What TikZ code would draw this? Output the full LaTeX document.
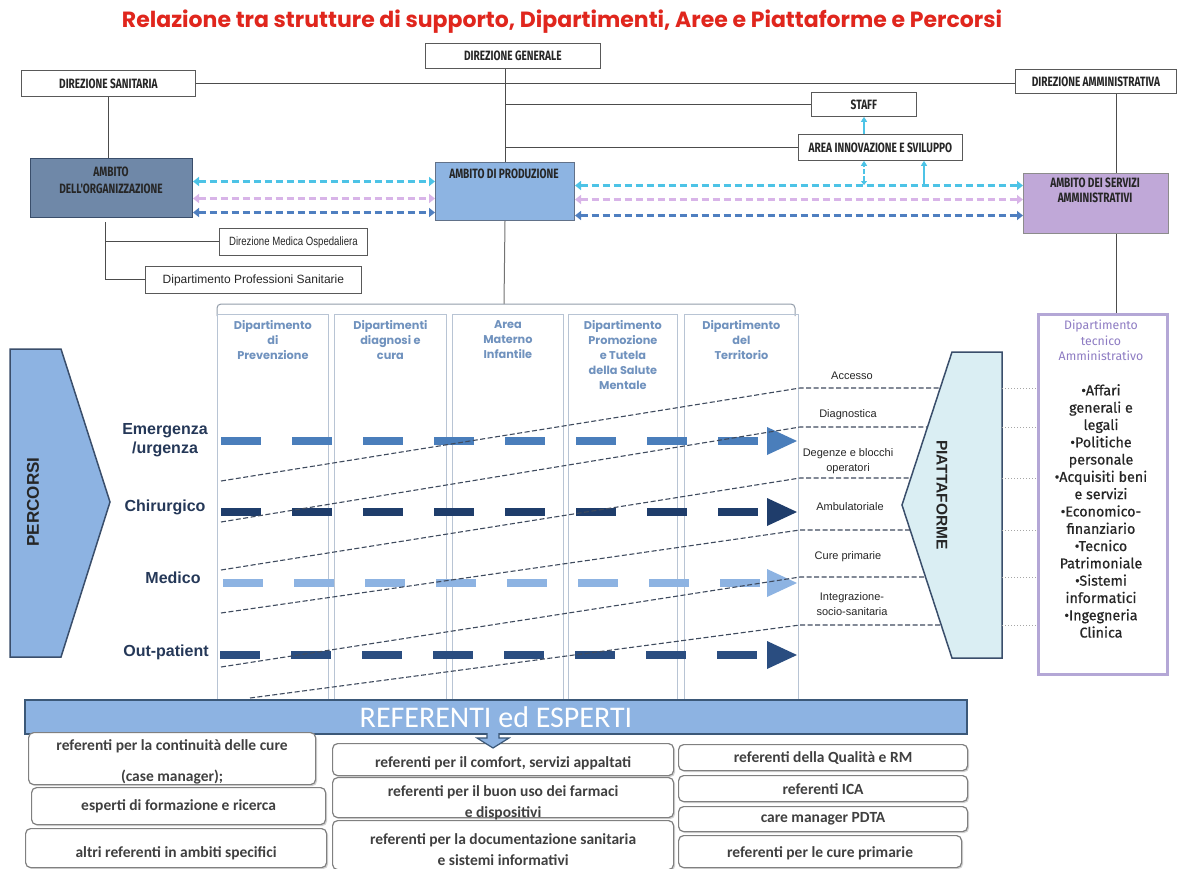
\documentclass[tikz,border=0pt]{standalone}
\usepackage{fontspec}
\setmainfont{Liberation Sans}
\newfontfamily\gothic{Poppins}
\newfontfamily\cond[FakeStretch=0.75]{Fira Sans}
\newfontfamily\condr[FakeStretch=0.8]{Liberation Sans}
\newfontfamily\fira{Fira Sans}
\newfontfamily\firab[FakeBold=0.6]{Fira Sans}
\newfontfamily\calib{Carlito}
\usetikzlibrary{arrows.meta,shadows}
\definecolor{titleC}{HTML}{E0261D}
\definecolor{adoC}{HTML}{6F88A8}
\definecolor{adpC}{HTML}{8DB4E2}
\definecolor{asaC}{HTML}{C0A8D8}
\definecolor{percC}{HTML}{8DB3E2}
\definecolor{piatC}{HTML}{DAEEF3}
\definecolor{bordC}{HTML}{3A4E6B}
\definecolor{refB}{HTML}{3B5878}
\definecolor{hdrC}{HTML}{7092BE}
\definecolor{colC}{HTML}{B8C4D4}
\definecolor{emC}{HTML}{4A7EBB}
\definecolor{chC}{HTML}{1F3D6B}
\definecolor{meC}{HTML}{8DB3E2}
\definecolor{opC}{HTML}{2A4D80}
\definecolor{cyA}{HTML}{4DC3E6}
\definecolor{piA}{HTML}{D8B4E8}
\definecolor{blA}{HTML}{4F7FC0}
\definecolor{lavC}{HTML}{B4A7D6}
\definecolor{purpC}{HTML}{8E7CC3}
\definecolor{rowC}{HTML}{253858}
\definecolor{slC}{HTML}{3F4B5E}
\definecolor{txC}{HTML}{404040}
\begin{document}
\begin{tikzpicture}[x=1pt,y=-1pt,
  tbox/.style={draw=black!65, line width=0.8pt, fill=white, inner sep=0, anchor=north west,
    font=\cond\bfseries\fontsize{13.5}{14}\selectfont, text=black!85},
  ambox/.style={line width=1pt, inner sep=0, anchor=north west},
  lbl/.style={font=\cond\bfseries\fontsize{13.5}{17}\selectfont, text=black!85, align=center},
  conn/.style={draw=black!70, line width=1pt},
  colbox/.style={draw=colC, line width=0.8pt, inner sep=0, anchor=north west},
  hdr/.style={anchor=north, align=center, inner sep=0, font=\gothic\bfseries\fontsize{11.3}{15}\selectfont, text=hdrC},
  rowlbl/.style={align=center, font=\bfseries\fontsize{16}{19}\selectfont, text=rowC},
  slant/.style={draw=slC, line width=1.1pt, dash pattern=on 5pt off 2.5pt},
  plbl/.style={align=center, font=\fontsize{11}{15}\selectfont, text=black!85},
  amb/.style={line width=2.8pt, dash pattern=on 7pt off 4pt, {Triangle[width=9pt,length=6pt]}-{Triangle[width=9pt,length=6pt]}},
  refbox/.style={draw=black!50, line width=1.2pt, rounded corners=5pt, fill=white, anchor=north west, inner sep=0,
    drop shadow={shadow xshift=1.5pt, shadow yshift=-1.5pt, fill=black!35}},
  reftxt/.style={font=\calib\bfseries\fontsize{15.5}{17}\selectfont, text=txC}
]
\useasboundingbox (0,0) rectangle (1184,868);
\fill[white] (0,0) rectangle (1184,868);

% title
\node[font=\gothic\bfseries\fontsize{22}{24}\selectfont, text=titleC] (title) at (562,22) {Relazione tra strutture di supporto, Dipartimenti, Aree e Piattaforme e Percorsi};

% top boxes
\node[tbox, minimum width=174pt, minimum height=26pt] (ds) at (21,70) {DIREZIONE SANITARIA};
\node[tbox, minimum width=175pt, minimum height=25pt] (dg) at (425,43) {DIREZIONE GENERALE};
\node[tbox, minimum width=161pt, minimum height=24pt] (da) at (1015,69) {DIREZIONE AMMINISTRATIVA};
\node[tbox, minimum width=105pt, minimum height=24pt] (staff) at (811,92) {STAFF};
\node[tbox, minimum width=164pt, minimum height=26pt] (ais) at (798,134) {AREA INNOVAZIONE E SVILUPPO};

% ambiti
\node[ambox, fill=adoC, draw=bordC, minimum width=162pt, minimum height=59pt] (ado) at (30,158) {};
\node[lbl] (adoT) at (111,180) {AMBITO\\DELL'ORGANIZZAZIONE};
\node[ambox, fill=adpC, draw=bordC!80, minimum width=139pt, minimum height=58pt] (adp) at (435,162) {};
\node[lbl] (adpT) at (504,174) {AMBITO DI PRODUZIONE};
\node[ambox, fill=asaC, draw=black!45, minimum width=145pt, minimum height=60pt] (asa) at (1023,173) {};
\node[lbl, font=\cond\bfseries\fontsize{13.5}{15}\selectfont] (asaT) at (1095,190) {AMBITO DEI SERVIZI\\AMMINISTRATIVI};

\node[tbox, font=\condr\fontsize{12}{13}\selectfont, minimum width=148pt, minimum height=27pt] (dmo) at (219,228) {Direzione Medica Ospedaliera};
\node[tbox, font=\fontsize{12}{13}\selectfont, minimum width=216pt, minimum height=27pt] (dps) at (145,266) {Dipartimento Professioni Sanitarie};

% connectors
\draw[conn] (ds.south) -- (ds.south |- ado.north);
\draw[conn] (ds.east) -- (ds.east -| da.west);
\draw[conn] (dg.south -| adp.north) -- (adp.north);
\draw[conn] (staff.west -| adp.north) -- (staff.west);
\draw[conn] (ais.west -| adp.north) -- (ais.west);
\coordinate (ob) at ([xshift=-6pt,yshift=-4pt]ado.south);
\draw[conn] (ob) |- (dps.west);
\draw[conn] (ob |- dmo.west) -- (dmo.west);
\coordinate (vx) at (1116,0);
\draw[conn] (da.south -| vx) -- (asa.north -| vx);
\draw[conn] (asa.south -| vx) -- (1116,313);

% dashed arrows between ambiti
\draw[amb, cyA] ([yshift=6.5pt]ado.east) -- ([yshift=6.5pt]ado.east -| adp.west);
\draw[amb, piA] ([yshift=-10.5pt]ado.east) -- ([yshift=-10.5pt]ado.east -| adp.west);
\draw[amb, blA] ([yshift=-24.5pt]ado.east) -- ([yshift=-24.5pt]ado.east -| adp.west);
\draw[amb, cyA] ([yshift=6pt]adp.east) -- ([yshift=6pt]adp.east -| asa.west);
\draw[amb, piA] ([yshift=-8pt]adp.east) -- ([yshift=-8pt]adp.east -| asa.west);
\draw[amb, blA] ([yshift=-24pt]adp.east) -- ([yshift=-24pt]adp.east -| asa.west);
\coordinate (c1) at (864,185);
\coordinate (c2) at (924,185);
\draw[cyA, line width=1.5pt, dash pattern=on 5pt off 2pt, {Triangle[width=6pt,length=4pt]}-{Triangle[width=6pt,length=5pt]}] (c1) -- (c1 |- ais.south);
\draw[cyA, line width=1.5pt, -{Triangle[width=6pt,length=5pt]}] (c2) -- (c2 |- ais.south);
\draw[cyA, line width=1.5pt, -{Triangle[width=6pt,length=5pt]}] (c1 |- ais.north) -- (c1 |- staff.south);

% brace and columns
\coordinate (brtop) at (504,304);
\draw[conn, draw=black!55] (adp.south) -- (brtop);
\draw[draw=colC!80!black, line width=1pt, rounded corners=4pt] (217,316) |- (795,304) -- (795,316);
\node[colbox, minimum width=111pt, minimum height=385pt] (col1) at (217,314) {};
\node[colbox, minimum width=112pt, minimum height=385pt] (col2) at (334,314) {};
\node[colbox, minimum width=111pt, minimum height=385pt] (col3) at (452,314) {};
\node[colbox, minimum width=109pt, minimum height=385pt] (col4) at (568,314) {};
\node[colbox, minimum width=114pt, minimum height=385pt] (col5) at (684,314) {};
\node[hdr] (h1) at (col1.north |- 0,320) {Dipartimento\\di\\Prevenzione};
\node[hdr] (h2) at (col2.north |- 0,320) {Dipartimenti\\diagnosi e\\cura};
\node[hdr] (h3) at (col3.north |- 0,320) {Area\\Materno\\Infantile};
\node[hdr] (h4) at (col4.north |- 0,320) {Dipartimento\\Promozione\\e Tutela\\della Salute\\Mentale};
\node[hdr] (h5) at (col5.north |- 0,320) {Dipartimento\\del\\Territorio};

% PERCORSI
\draw[fill=percC, draw=bordC, line width=1.5pt] (10,349) -- (61,349) -- (110,502) -- (61,657) -- (10,657) -- cycle;
\node[rotate=90, font=\bfseries\fontsize{17}{17}\selectfont, text=black!85] (perc) at (33,502) {PERCORSI};
\node[rowlbl] (r1) at (165,440) {Emergenza\\/urgenza};
\node[rowlbl] (r2) at (165,507) {Chirurgico};
\node[rowlbl] (r3) at (173,578) {Medico};
\node[rowlbl] (r4) at (166,652) {Out-patient};

\foreach \yy/\cc/\ss in {441/emC/221, 512/chC/221, 583/meC/223, 655/opC/220}{
  \draw[line width=8pt, dash pattern=on 40pt off 31pt, \cc] (\ss,\yy) -- (\ss+538,\yy);
  \fill[\cc] (767,\yy-14) -- (797,\yy) -- (767,\yy+14) -- cycle;
}

% PIATTAFORME
\draw[fill=piatC, draw=bordC, line width=1.5pt] (952,352) -- (1002,352) -- (1002,658) -- (952,658) -- (902,505) -- cycle;
\node[rotate=-90, font=\bfseries\fontsize{15.5}{16}\selectfont, text=black!85] (piat) at (942,495) {PIATTAFORME};

% slanted dashed lines
\draw[slant] (221,481) -- (800,388) -- (940,388);
\draw[slant] (221,522) -- (800,427) -- (927,427);
\draw[slant] (221,570) -- (800,478) -- (911,478);
\draw[slant] (221,613) -- (800,530) -- (910,530);
\draw[slant] (221,667) -- (800,577) -- (925,577);
\draw[slant] (250,698) -- (800,625) -- (941,625);

\node[plbl] (pl1) at (852,376) {Accesso};
\node[plbl] (pl2) at (848,415) {Diagnostica};
\node[plbl] (pl3) at (848,461) {Degenze e blocchi\\operatori};
\node[plbl] (pl4) at (850,507) {Ambulatoriale};
\node[plbl] (pl5) at (848,557) {Cure primarie};
\node[plbl] (pl6) at (852,604) {Integrazione-\\socio-sanitaria};

\foreach \yy in {388,427,478,530,577,625}{
  \draw[black!35, line width=1pt, dotted] (1002,\yy) -- (1037,\yy);
}

% Dipartimento tecnico amministrativo
\node[draw=lavC, line width=2.5pt, minimum width=129pt, minimum height=360pt, anchor=north west, inner sep=0] (dta) at (1037,313) {};
\node[anchor=north, align=center, inner sep=0, font=\fira\fontsize{12.3}{15.5}\selectfont, text=purpC] (dtaT) at (1101,320) {Dipartimento\\tecnico\\Amministrativo};
\node[anchor=north, align=center, inner sep=0, font=\firab\fontsize{14.3}{17.3}\selectfont, text=black!85] (dtaL) at (1101,384) {•Affari\\generali e\\legali\\•Politiche\\personale\\•Acquisiti beni\\e servizi\\•Economico-\\finanziario\\•Tecnico\\Patrimoniale\\•Sistemi\\informatici\\•Ingegneria\\Clinica};

% REFERENTI
\node[draw=refB, line width=2pt, fill=percC, minimum width=942pt, minimum height=34pt, anchor=north west, inner sep=0,
  font=\calib\fontsize{30}{30}\selectfont, text=white] (ref) at (24,699) {REFERENTI ed ESPERTI};

\node[refbox, minimum width=287pt, minimum height=52pt] (b1) at (28,732) {};
\node[reftxt] (t1a) at (b1.north |- 0,746) {referenti per la continuità delle cure};
\node[reftxt] (t1b) at (b1.north |- 0,777) {(case manager);};
\node[refbox, minimum width=294pt, minimum height=37pt] (b2) at (31,787) {};
\node[reftxt] (t2) at (b2.center) {esperti di formazione e ricerca};
\node[refbox, minimum width=301pt, minimum height=39pt] (b3) at (25,828) {};
\node[reftxt] (t3) at (b3.north |- 0,853) {altri referenti in ambiti specifici};

\node[refbox, minimum width=341pt, minimum height=32pt] (b4) at (332,743) {};
\node[reftxt] (t4) at (b4.north |- 0,763) {referenti per il comfort, servizi appaltati};
\node[refbox, minimum width=341pt, minimum height=40pt] (b5) at (332,777) {};
\node[reftxt] (t5a) at (b5.north |- 0,792) {referenti per il buon uso dei farmaci};
\node[reftxt] (t5b) at (b5.north |- 0,813) {e dispositivi};
\node[refbox, minimum width=341pt, minimum height=49pt] (b6) at (332,820) {};
\node[reftxt] (t6a) at (b6.north |- 0,840) {referenti per la documentazione sanitaria};
\node[reftxt] (t6b) at (b6.north |- 0,860) {e sistemi informativi};

\node[refbox, minimum width=289pt, minimum height=26pt] (b7) at (678,744) {};
\node[reftxt] (t7) at (b7.center) {referenti della Qualità e RM};
\node[refbox, minimum width=289pt, minimum height=26pt] (b8) at (678,775) {};
\node[reftxt] (t8) at (b8.center) {referenti ICA};
\node[refbox, minimum width=289pt, minimum height=25pt] (b9) at (678,806) {};
\node[reftxt] (t9) at (b9.center) {care manager PDTA};
\node[refbox, minimum width=283pt, minimum height=32pt] (b10) at (678,835) {};
\node[reftxt] (t10) at (b10.north |- 0,853) {referenti per le cure primarie};

\draw[fill=percC, draw=refB, line width=1.2pt] (487,733) -- (487,738) -- (477,738) -- (493,748) -- (509,738) -- (499,738) -- (499,733);
\end{tikzpicture}
\end{document}
